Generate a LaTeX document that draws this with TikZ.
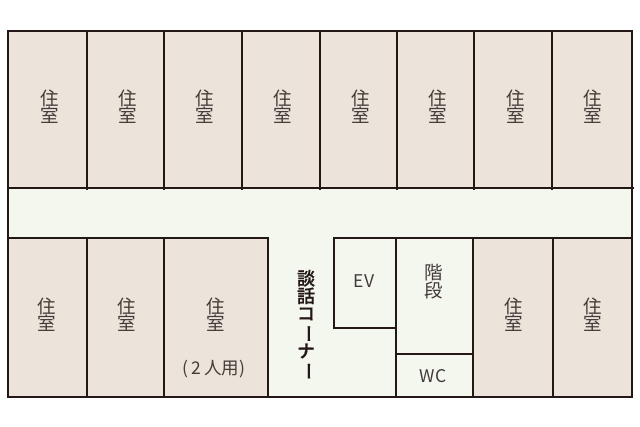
\documentclass[tikz,border=0pt]{standalone}
\usepackage{fontspec}
\setmainfont{Noto Sans CJK JP}
\newfontfamily\talkfont[FakeBold=0.7]{Noto Sans CJK JP Medium}
\definecolor{roomfill}{HTML}{ECE3DB}
\definecolor{hallfill}{HTML}{F4F7EE}
\definecolor{ink}{HTML}{231815}
\newcommand{\vbar}{\rotatebox[origin=c]{-90}{ー}}
\tikzset{
  wall/.style={draw=ink,line width=1.8pt},
  roomarea/.style={wall,fill=roomfill},
  hallarea/.style={wall,fill=hallfill},
  lbl/.style={text=ink!85,inner sep=0pt,align=center,font=\fontsize{18.5}{17}\selectfont},
  lblsmall/.style={text=ink!85,inner sep=0pt,font=\fontsize{17.5}{18}\selectfont},
  lblbold/.style={text=ink,inner sep=0pt,align=center,font=\fontsize{18}{17.5}\talkfont}
}
\begin{document}
\begin{tikzpicture}[x=1pt,y=-1pt]
\useasboundingbox (0,0) rectangle (640,427);
\fill[white] (0,0) rectangle (640,427);
% corridor and common space
\path[hallarea] (8,31) rectangle (632,397);
% upper rooms
\foreach \a/\b in {8/87,87/164,164/242,242/320,320/397,397/474,474/552,552/632}
  \path[roomarea] (\a,31) rectangle (\b,188);
\draw[wall] (7,188) -- (634,188);
\foreach \x in {87,164,242,320,397,474,552}
  \draw[wall] (\x,188) -- (\x,190);
% lower rooms
\foreach \a/\b in {8/87,87/164,164/268,473/553,553/632}
  \path[roomarea] (\a,238) rectangle (\b,397);
\draw[wall] (7,238) -- (268,238);
\draw[wall] (334,238) -- (632,238);
% EV, stairs, WC
\path[hallarea] (334,238) rectangle (396,328);
\path[hallarea] (396,238) rectangle (473,354);
\path[hallarea] (396,354) rectangle (473,397);
% labels, top row
\node[lbl] (u1) at (50,106.5) {住\\室};
\node[lbl] (u2) at (127.5,106.5) {住\\室};
\node[lbl] (u3) at (205,106.5) {住\\室};
\node[lbl] (u4) at (283,106.5) {住\\室};
\node[lbl] (u5) at (360.5,106.5) {住\\室};
\node[lbl] (u6) at (438,106.5) {住\\室};
\node[lbl] (u7) at (515.5,106.5) {住\\室};
\node[lbl] (u8) at (593,106.5) {住\\室};
% labels, bottom row
\node[lbl] (l1) at (47,315) {住\\室};
\node[lbl] (l2) at (126.5,315) {住\\室};
\node[lbl] (l3) at (216,315) {住\\室};
\node[lbl] (l4) at (514,315) {住\\室};
\node[lbl] (l5) at (593,315) {住\\室};
\node[lblsmall] (two) at (214,369.5) {(\,2\,人用)};
\node[lblbold] (talk) at (306,325) {談\\話\\コ\\\vbar\\ナ\\\vbar};
\node[lblsmall] (ev) at (364,281) {EV};
\node[lbl] (stairs) at (433.5,281.5) {階\\段};
\node[lblsmall] (wc) at (433,376.5) {WC};
\end{tikzpicture}
\end{document}
